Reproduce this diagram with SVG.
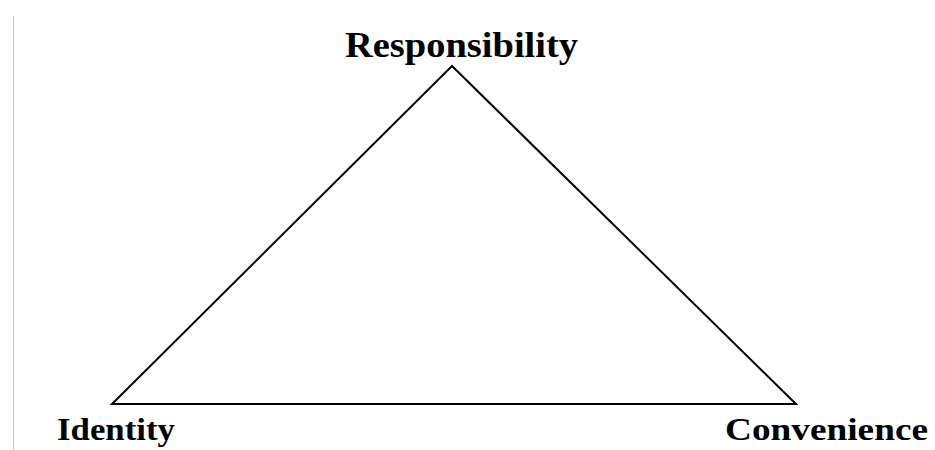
<svg xmlns="http://www.w3.org/2000/svg" width="935" height="450" viewBox="0 0 935 450">
<style>
.lbl{font-family:"Liberation Serif","Times New Roman",serif;font-weight:bold;fill:#000;}
.edge{fill:none;stroke:#000;stroke-width:2;stroke-linejoin:miter;}
</style>
<rect width="935" height="450" fill="#fff"/>
<line x1="13.5" y1="16" x2="13.5" y2="450" stroke="#c8c8c8" stroke-width="1"/>
<g id="connectors">
<polygon class="edge" points="452,66 112,404 796,404"/>
</g>
<g id="node-responsibility"><text class="lbl" x="345" y="57" font-size="35" textLength="233" lengthAdjust="spacingAndGlyphs">Responsibility</text></g>
<g id="node-identity"><text class="lbl" x="57" y="440" font-size="32" textLength="118" lengthAdjust="spacingAndGlyphs">Identity</text></g>
<g id="node-convenience"><text class="lbl" x="725" y="440" font-size="32" textLength="203" lengthAdjust="spacingAndGlyphs">Convenience</text></g>
</svg>
